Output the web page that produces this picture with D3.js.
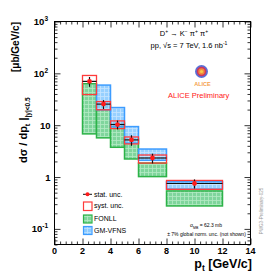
<!DOCTYPE html>
<html>
<head>
<meta charset="utf-8">
<script src="https://cdnjs.cloudflare.com/ajax/libs/d3/7.8.5/d3.min.js"></script>
<style>
  body { margin: 0; background: #fff; }
  svg { display: block; font-family: "Liberation Sans", Arial, sans-serif; }
</style>
</head>
<body>
<div id="chart"></div>
<script>
// pt bins and measured D+ cross section (ub/GeV/c)
var binLo = [2, 3, 4, 5, 6, 8];
var binHi = [3, 4, 5, 6, 8, 12];
var xsec = [70, 25.5, 10.3, 5.2, 2.33, 0.75];
var statErr = [15, 5, 2, 1.2, 0.5, 0.15];
var systUp = [91, 28.6, 12.1, 5.93, 2.66, 0.86];
var systDown = [39, 19.8, 8.6, 4.35, 1.86, 0.58];
// theory bands
var fonllUp = [63, 24, 10.9, 5.4, 1.86, 0.54];
var fonllDown = [6.8, 5.7, 3.75, 2.23, 1.02, 0.277];
var gmvfnsUp = [null, 59.4, 21.9, 9.4, 3.47, 0.81];
var gmvfnsDown = [null, 19.8, 9.3, 4.5, 2.1, 0.585];
// axis labels
var xTickValues = [0, 2, 4, 6, 8, 10, 12, 14];
var yTickValues = [1000, 100, 10, 1, 0.1];
var yTickBase = ["10", "10", "10", "1", "10"];
var yTickExp = ["3", "2", "", "", "-1"];

var width = 266, height = 278;
var x = d3.scaleLinear().domain([0, 14]).range([54.5, 250.5]);
var y = d3.scaleLog().domain([0.05, 1000]).range([244.5, 21.5]);

var svg = d3.select("#chart").append("svg")
  .attr("width", width)
  .attr("height", height);

// hatch patterns (ROOT style grid fill)
var defs = svg.append("defs");
function gridPattern(id, bg, line) {
  var p = defs.append("pattern")
    .attr("id", id)
    .attr("patternUnits", "userSpaceOnUse")
    .attr("width", 4).attr("height", 4);
  p.append("rect").attr("width", 4).attr("height", 4).attr("fill", bg);
  p.append("path").attr("d", "M0,0.5H4M0.5,0V4")
    .attr("stroke", line).attr("stroke-width", 0.8);
}
gridPattern("fonllFill", "#7fd59c", "#b4ebc4");
gridPattern("gmFill", "#8ccbff", "#c0e2ff");

var bins = binLo.map(function(d, i) { return i; });

// FONLL
svg.append("g").selectAll("rect")
  .data(bins)
  .enter().append("rect")
  .attr("x", function(i) { return x(binLo[i]); })
  .attr("width", function(i) { return x(binHi[i]) - x(binLo[i]); })
  .attr("y", function(i) { return y(fonllUp[i]); })
  .attr("height", function(i) { return y(fonllDown[i]) - y(fonllUp[i]); })
  .attr("fill", "url(#fonllFill)")
  .attr("stroke", "#2db348")
  .attr("stroke-width", 1.5);

// GM-VFNS
svg.append("g").selectAll("rect")
  .data(bins.filter(function(i) { return gmvfnsUp[i] != null; }))
  .enter().append("rect")
  .attr("x", function(i) { return x(binLo[i]); })
  .attr("width", function(i) { return x(binHi[i]) - x(binLo[i]); })
  .attr("y", function(i) { return y(gmvfnsUp[i]); })
  .attr("height", function(i) { return y(gmvfnsDown[i]) - y(gmvfnsUp[i]); })
  .attr("fill", "url(#gmFill)")
  .attr("fill-opacity", 0.9)
  .attr("stroke", "#3d9cff")
  .attr("stroke-width", 1.5);

// systematic boxes
svg.append("g").selectAll("rect")
  .data(bins)
  .enter().append("rect")
  .attr("x", function(i) { return x(binLo[i]); })
  .attr("width", function(i) { return x(binHi[i]) - x(binLo[i]); })
  .attr("y", function(i) { return y(systUp[i]); })
  .attr("height", function(i) { return y(systDown[i]) - y(systUp[i]); })
  .attr("fill", "none")
  .attr("stroke", "#ff3b3b")
  .attr("stroke-width", 1.3);

// stat errors
var pts = svg.append("g");
pts.selectAll("line.h")
  .data(bins)
  .enter().append("line")
  .attr("class", "h")
  .attr("x1", function(i) { return x(binLo[i]); })
  .attr("x2", function(i) { return x(binHi[i]); })
  .attr("y1", function(i) { return y(xsec[i]); })
  .attr("y2", function(i) { return y(xsec[i]); })
  .attr("stroke", "#111").attr("stroke-width", 1.2);
pts.selectAll("line.v")
  .data(bins)
  .enter().append("line")
  .attr("class", "v")
  .attr("x1", function(i) { return x((binLo[i] + binHi[i]) / 2); })
  .attr("x2", function(i) { return x((binLo[i] + binHi[i]) / 2); })
  .attr("y1", function(i) { return y(xsec[i] + statErr[i]); })
  .attr("y2", function(i) { return y(xsec[i] - statErr[i]); })
  .attr("stroke", "#111").attr("stroke-width", 1.2);
pts.selectAll("circle")
  .data(bins)
  .enter().append("circle")
  .attr("cx", function(i) { return x((binLo[i] + binHi[i]) / 2); })
  .attr("cy", function(i) { return y(xsec[i]); })
  .attr("r", 2.4)
  .attr("fill", "#ff1a1a");

// frame and ticks
var x0 = x.range()[0], x1 = x.range()[1], y0 = y.range()[0], y1 = y.range()[1];
svg.append("rect")
  .attr("x", x0).attr("y", y1)
  .attr("width", x1 - x0).attr("height", y0 - y1)
  .attr("fill", "none").attr("stroke", "#000").attr("stroke-width", 1);

var xMinor = d3.range(0, 14.001, 0.4).filter(function(v) { return Math.abs(v / 2 - Math.round(v / 2)) > 1e-6; });
var yAll = y.ticks();
var yMinor = yAll.filter(function(v) { return yTickValues.indexOf(v) < 0; });

function axisGroup(axis, tx, ty) {
  var g = svg.append("g").attr("transform", "translate(" + tx + "," + ty + ")").call(axis);
  g.select(".domain").remove();
  g.selectAll("text").remove();
  g.selectAll("line").attr("stroke", "#000").attr("stroke-width", 0.8);
  return g;
}
axisGroup(d3.axisBottom(x).tickValues(xTickValues).tickSize(-6), 0, y0);
axisGroup(d3.axisBottom(x).tickValues(xMinor).tickSize(-3), 0, y0);
axisGroup(d3.axisTop(x).tickValues(xTickValues).tickSize(-6), 0, y1);
axisGroup(d3.axisTop(x).tickValues(xMinor).tickSize(-3), 0, y1);
axisGroup(d3.axisLeft(y).tickValues(yTickValues).tickSize(-6), x0, 0);
axisGroup(d3.axisLeft(y).tickValues(yMinor).tickSize(-3), x0, 0);
axisGroup(d3.axisRight(y).tickValues(yTickValues).tickSize(-6), x1, 0);
axisGroup(d3.axisRight(y).tickValues(yMinor).tickSize(-3), x1, 0);

// tick labels
svg.append("g").selectAll("text")
  .data(xTickValues)
  .enter().append("text")
  .attr("x", function(d) { return x(d); })
  .attr("y", y0 + 9)
  .attr("text-anchor", "middle")
  .attr("font-size", 9).attr("font-weight", "bold")
  .text(function(d) { return d; });

var yl = svg.append("g").selectAll("text")
  .data(yTickValues)
  .enter().append("text")
  .attr("x", function(d, i) { return yTickExp[i] ? 48 : 50.5; })
  .attr("y", function(d) { return y(d) + 3.5; })
  .attr("text-anchor", "end")
  .attr("font-size", 9.5).attr("font-weight", "bold");
yl.append("tspan").text(function(d, i) { return yTickBase[i]; });
yl.append("tspan")
  .attr("dy", -4).attr("font-size", 6.5)
  .text(function(d, i) { return yTickExp[i]; });

// axis titles
var xt = svg.append("text")
  .attr("x", 252).attr("y", 267.5)
  .attr("text-anchor", "end")
  .attr("font-size", 12.5).attr("font-weight", "bold");
xt.append("tspan").text("p");
xt.append("tspan").attr("dy", 3).attr("font-size", 8.5).text("t");
xt.append("tspan").attr("dy", -3).text("  [GeV/c]");

var yt = svg.append("text")
  .attr("transform", "rotate(-90)")
  .attr("x", -163).attr("y", 27)
  .attr("font-size", 11).attr("font-weight", "bold");
yt.append("tspan").text("dσ / dp");
yt.append("tspan").attr("dy", 3).attr("font-size", 7.5).text("t");
yt.append("tspan").attr("dy", -3).text(" |");
yt.append("tspan").attr("dy", 3).attr("font-size", 6.5).text("|y|<0.5");
svg.append("text")
  .attr("transform", "rotate(-90)")
  .attr("x", -22).attr("y", 18.5)
  .attr("text-anchor", "end")
  .attr("font-size", 10).attr("font-weight", "bold")
  .text("[μb/GeV/c]");

// top right labels
var t1 = svg.append("text").attr("x", 184).attr("y", 35.5)
  .attr("text-anchor", "middle").attr("font-size", 7.5);
t1.append("tspan").text("D");
t1.append("tspan").attr("dy", -3).attr("font-size", 5).text("+");
t1.append("tspan").attr("dy", 3).text(" → K");
t1.append("tspan").attr("dy", -3).attr("font-size", 5).text("−");
t1.append("tspan").attr("dy", 3).text(" π");
t1.append("tspan").attr("dy", -3).attr("font-size", 5).text("+");
t1.append("tspan").attr("dy", 3).text(" π");
t1.append("tspan").attr("dy", -3).attr("font-size", 5).text("+");

var t2 = svg.append("text").attr("x", 189).attr("y", 47.5)
  .attr("text-anchor", "middle").attr("font-size", 7.5);
t2.append("tspan").text("pp, √s = 7 TeV, 1.6 nb");
t2.append("tspan").attr("dy", -3).attr("font-size", 5).text("-1");

// ALICE logo
var logo = svg.append("g").attr("transform", "translate(201.5,71.5)");
logo.append("circle").attr("r", 6.5).attr("fill", "#5a6fd6");
logo.append("circle").attr("r", 4.8).attr("fill", "#d0355a");
logo.append("circle").attr("r", 3.2).attr("fill", "#f08a3c");
logo.append("circle").attr("r", 1.6).attr("fill", "#f7c84a");
svg.append("text").attr("x", 202.5).attr("y", 85.5)
  .attr("text-anchor", "middle").attr("font-size", 5.5).attr("font-weight", "bold")
  .attr("fill", "#f5a04a").text("ALICE");
svg.append("text").attr("x", 198.7).attr("y", 97.5)
  .attr("text-anchor", "middle").attr("font-size", 7.5)
  .attr("fill", "#ff2020").text("ALICE Preliminary");

// legend
var legend = svg.append("g").attr("transform", "translate(83,0)");
legend.append("line").attr("x1", 0).attr("x2", 9).attr("y1", 194.3).attr("y2", 194.3)
  .attr("stroke", "#111").attr("stroke-width", 1);
legend.append("circle").attr("cx", 4.5).attr("cy", 194.3).attr("r", 2).attr("fill", "#ff1a1a");
legend.append("rect").attr("x", 0.5).attr("y", 202).attr("width", 8.5).attr("height", 8.5)
  .attr("fill", "none").attr("stroke", "#ff3b3b").attr("stroke-width", 1.2);
legend.append("rect").attr("x", 0.5).attr("y", 215).attr("width", 8.5).attr("height", 8)
  .attr("fill", "url(#fonllFill)").attr("stroke", "#2db348").attr("stroke-width", 1.2);
legend.append("rect").attr("x", 0.5).attr("y", 226.5).attr("width", 8.5).attr("height", 8)
  .attr("fill", "url(#gmFill)").attr("stroke", "#3d9cff").attr("stroke-width", 1.2);
var legendText = ["stat. unc.", "syst. unc.", "FONLL", "GM-VFNS"];
var legendY = [196.8, 208.3, 221.3, 233];
legend.selectAll("text.lg")
  .data(legendText)
  .enter().append("text")
  .attr("class", "lg")
  .attr("x", 11).attr("y", function(d, i) { return legendY[i]; })
  .attr("font-size", 7).text(function(d) { return d; });

// bottom right notes
var n1 = svg.append("text").attr("x", 206).attr("y", 227)
  .attr("text-anchor", "middle").attr("font-size", 5);
n1.append("tspan").text("σ");
n1.append("tspan").attr("dy", 1.5).attr("font-size", 3.5).text("MB");
n1.append("tspan").attr("dy", -1.5).text(" = 62.3 mb");
svg.append("text").attr("x", 206.5).attr("y", 235.8)
  .attr("text-anchor", "middle").attr("font-size", 5)
  .text("± 7% global norm. unc. (not shown)");
svg.append("text")
  .attr("transform", "rotate(-90)")
  .attr("x", -211).attr("y", 262.5)
  .attr("text-anchor", "middle").attr("font-size", 4.5)
  .attr("fill", "#999").text("PWG3-Preliminary-025");
</script>
</body>
</html>
